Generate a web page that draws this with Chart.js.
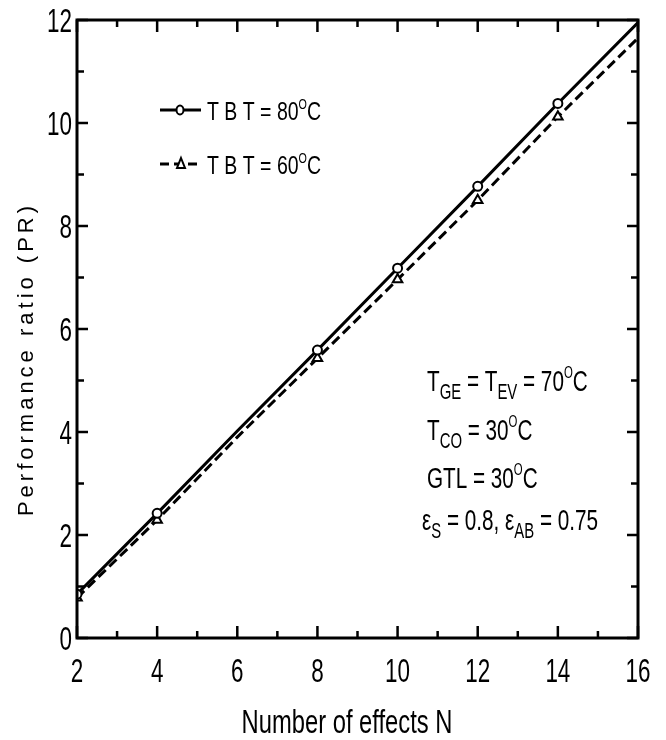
<!DOCTYPE html>
<html>
<head>
<meta charset="utf-8">
<script src="https://cdn.jsdelivr.net/npm/chart.js@4.4.1/dist/chart.umd.min.js"></script>
<style>
  body { margin: 0; background: #fff; }
  #wrap { width: 666px; height: 740px; }
</style>
</head>
<body>
<div id="wrap"><canvas id="prChart"></canvas></div>
<script>
// data
const effectsN = [2, 4, 6, 8, 10, 12, 14, 16];
const prTBT80 = [0.85, 2.42, 4.02, 5.59, 7.18, 8.77, 10.38, 11.95];
const prTBT60 = [0.78, 2.29, 3.90, 5.43, 6.96, 8.50, 10.12, 11.65];
const markerShown = [true, true, false, true, true, true, true, false];
const xTicks = [2, 4, 6, 8, 10, 12, 14, 16];
const yTicks = [0, 2, 4, 6, 8, 10, 12];

const FONT = "'Liberation Sans', Arial, sans-serif";

function toPoints(ys) {
  return effectsN.map((n, i) => ({ x: n, y: ys[i] }));
}

// narrow looking text: normal font squeezed sideways
function narrowText(ctx, txt, x, y, size, sx, align) {
  ctx.save();
  ctx.translate(x, y);
  ctx.scale(sx, 1);
  ctx.font = size + "px " + FONT;
  ctx.textAlign = align || "left";
  ctx.fillText(txt, 0, 0);
  ctx.restore();
}

// text with sub/superscripts: parts = [[text, 'n'|'sub'|'sup'], ...]
function drawRich(ctx, x, y, parts, size, sx) {
  let cx = x;
  parts.forEach(([txt, mode]) => {
    let s = size, dy = 0;
    if (mode === "sub") { s = size * 0.72; dy = size * 0.26; }
    if (mode === "sup") { s = size * 0.55; dy = -size * 0.45; }
    narrowText(ctx, txt, cx, y + dy, s, sx, "left");
    ctx.font = s + "px " + FONT;
    cx += ctx.measureText(txt).width * sx;
  });
}

const decorPlugin = {
  id: "decor",
  afterDatasetsDraw(chart) {
    const ctx = chart.ctx;
    const a = chart.chartArea;
    const xs = chart.scales.x;
    const ys = chart.scales.y;
    ctx.save();
    ctx.strokeStyle = "#000";
    // inward ticks on all four sides
    ctx.lineWidth = 2.5;
    for (let v = 2; v <= 16; v++) {
      const px = xs.getPixelForValue(v);
      const len = v % 2 === 0 ? 12 : 7;
      ctx.beginPath();
      ctx.moveTo(px, a.bottom); ctx.lineTo(px, a.bottom - len);
      ctx.moveTo(px, a.top); ctx.lineTo(px, a.top + len);
      ctx.stroke();
    }
    for (let v = 0; v <= 12; v++) {
      const py = ys.getPixelForValue(v);
      const len = v % 2 === 0 ? 11 : 7;
      ctx.beginPath();
      ctx.moveTo(a.left, py); ctx.lineTo(a.left + len, py);
      ctx.moveTo(a.right, py); ctx.lineTo(a.right - len, py);
      ctx.stroke();
    }
    // frame
    ctx.lineWidth = 3;
    ctx.strokeRect(a.left, a.top, a.right - a.left, a.bottom - a.top);
    ctx.restore();
  },
  afterDraw(chart) {
    const ctx = chart.ctx;
    const a = chart.chartArea;
    ctx.save();
    ctx.fillStyle = "#000";
    ctx.strokeStyle = "#000";
    ctx.textBaseline = "alphabetic";

    // tick labels, placed with the scales
    chart.scales.x.ticks.forEach(t => {
      narrowText(ctx, String(t.value), chart.scales.x.getPixelForValue(t.value), 682, 33, 0.68, "center");
    });
    chart.scales.y.ticks.forEach(t => {
      narrowText(ctx, String(t.value), a.left - 5, chart.scales.y.getPixelForValue(t.value) + 12, 33, 0.68, "right");
    });

    // legend
    ctx.lineWidth = 3;
    ctx.setLineDash([]);
    ctx.beginPath(); ctx.moveTo(160, 110); ctx.lineTo(201, 110); ctx.stroke();
    ctx.beginPath(); ctx.ellipse(180, 110, 3.5, 4.5, 0, 0, Math.PI * 2);
    ctx.fillStyle = "#fff"; ctx.fill(); ctx.lineWidth = 2; ctx.stroke();
    ctx.fillStyle = "#000";
    ctx.lineWidth = 3;
    ctx.setLineDash([9, 5]);
    ctx.beginPath(); ctx.moveTo(160, 164); ctx.lineTo(201, 164); ctx.stroke();
    ctx.setLineDash([]);
    ctx.beginPath();
    ctx.moveTo(181, 158); ctx.lineTo(185, 168); ctx.lineTo(177, 168); ctx.closePath();
    ctx.fillStyle = "#fff"; ctx.fill(); ctx.lineWidth = 2; ctx.stroke();
    ctx.fillStyle = "#000";
    drawRich(ctx, 207, 120, [["T B T = 80", "n"], ["O", "sup"], ["C", "n"]], 25, 0.78);
    drawRich(ctx, 207, 174, [["T B T = 60", "n"], ["O", "sup"], ["C", "n"]], 25, 0.78);

    // conditions
    const S = 30, SX = 0.69;
    drawRich(ctx, 427, 391, [["T", "n"], ["GE", "sub"], [" = T", "n"], ["EV", "sub"], [" = 70", "n"], ["O", "sup"], ["C", "n"]], S, SX);
    drawRich(ctx, 427, 440, [["T", "n"], ["CO", "sub"], [" = 30", "n"], ["O", "sup"], ["C", "n"]], S, SX);
    drawRich(ctx, 427, 488, [["GTL = 30", "n"], ["O", "sup"], ["C", "n"]], S, SX);
    drawRich(ctx, 422, 530, [["\u03b5", "n"], ["S", "sub"], [" = 0.8, \u03b5", "n"], ["AB", "sub"], [" = 0.75", "n"]], S, SX);

    // axis titles
    narrowText(ctx, "Number of effects N", 347, 733, 33, 0.72, "center");

    ctx.translate(33, 359);
    ctx.rotate(-Math.PI / 2);
    ctx.font = "22px " + FONT;
    ctx.textAlign = "center";
    ctx.letterSpacing = "4px";
    ctx.fillText("Performance ratio (PR)", 0, 0);
    ctx.restore();
  }
};

new Chart(document.getElementById("prChart"), {
  type: "line",
  data: {
    datasets: [
      {
        label: "TBT = 80\u00b0C",
        data: toPoints(prTBT80),
        borderColor: "#000",
        borderWidth: 3,
        pointStyle: "circle",
        pointRadius: markerShown.map(m => (m ? 4.5 : 0)),
        pointBorderWidth: 2,
        pointBackgroundColor: "#fff",
        pointBorderColor: "#000",
        tension: 0
      },
      {
        label: "TBT = 60\u00b0C",
        data: toPoints(prTBT60),
        borderColor: "#000",
        borderWidth: 3,
        borderDash: [10, 5],
        pointStyle: "triangle",
        pointRadius: markerShown.map(m => (m ? 5.5 : 0)),
        pointBorderWidth: 2,
        pointBackgroundColor: "#fff",
        pointBorderColor: "#000",
        tension: 0
      }
    ]
  },
  options: {
    responsive: true,
    maintainAspectRatio: false,
    animation: false,
    layout: { padding: { left: 0, top: 20, right: 28, bottom: 0 } },
    plugins: { legend: { display: false }, tooltip: { enabled: false } },
    scales: {
      x: {
        type: "linear",
        min: 2,
        max: 16,
        afterBuildTicks: (s) => { s.ticks = xTicks.map(v => ({ value: v })); },
        afterFit: (s) => { s.height = 102; },
        grid: { display: false, drawTicks: false },
        border: { display: false },
        ticks: { display: false }
      },
      y: {
        type: "linear",
        min: 0,
        max: 12,
        afterBuildTicks: (s) => { s.ticks = yTicks.map(v => ({ value: v })); },
        afterFit: (s) => { s.width = 77; },
        grid: { display: false, drawTicks: false },
        border: { display: false },
        ticks: { display: false }
      }
    }
  },
  plugins: [decorPlugin]
});
</script>
</body>
</html>
